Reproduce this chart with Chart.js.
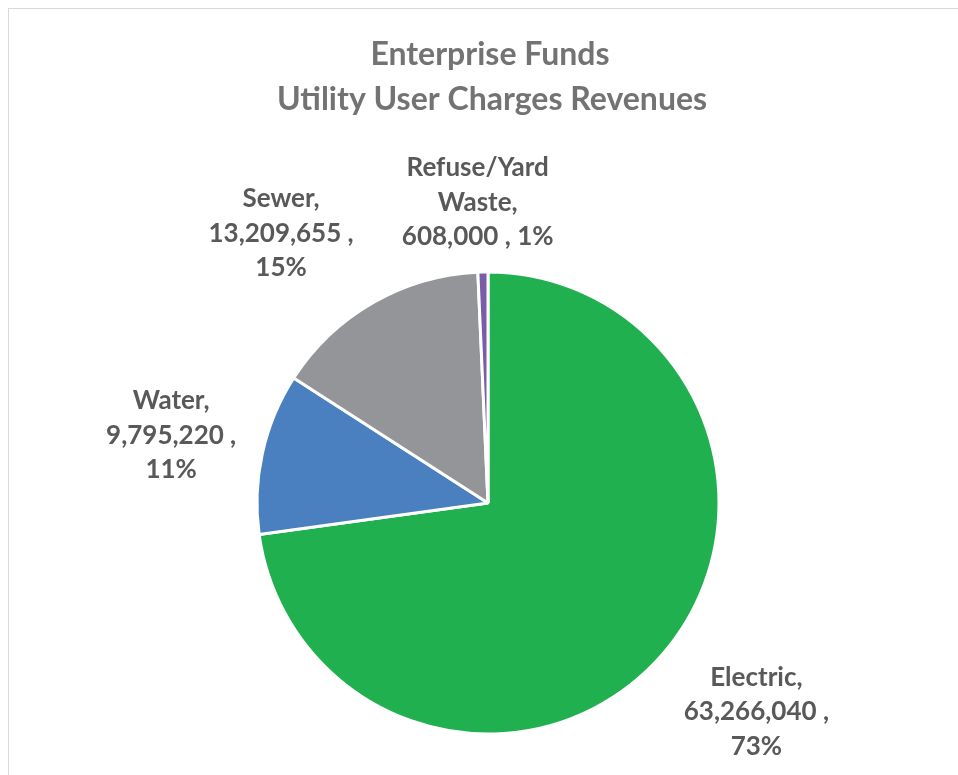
<!DOCTYPE html>
<html>
<head>
<meta charset="utf-8">
<title>Enterprise Funds - Utility User Charges Revenues</title>
<script src="https://cdn.jsdelivr.net/npm/chart.js@4.4.0/dist/chart.umd.min.js"></script>
<style>
  html, body { margin: 0; padding: 0; background: #fff; overflow: hidden; }
  #wrap { position: relative; width: 958px; height: 775px; }
  #frame {
    position: absolute; left: 8px; top: 8px; width: 1000px; height: 1000px;
    border: 1px solid #d9d9d9; box-sizing: border-box;
  }
  #grafico { position: absolute; left: 0; top: 0; }
</style>
</head>
<body>
<div id="wrap">
  <div id="frame"></div>
  <canvas id="grafico" width="958" height="775"></canvas>
</div>
<script>
// Datos
const tituloLineas = ["Enterprise Funds", "Utility User Charges Revenues"];
const fuentes = ["Electric", "Water", "Sewer", "Refuse/Yard Waste"];
const ingresos = [63266040, 9795220, 13209655, 608000];
const colores = ["#21b04f", "#4a7fc0", "#939598", "#7b5ca9"];

// Ubicación de cada etiqueta: distancia fuera del borde y giro (grados) respecto al centro del sector
const etiquetaAjuste = [
  { fuera: 109, giro: -3.2 },
  { fuera: 93, giro: -0.4 },
  { fuera: 109, giro: -7.6 },
  { fuera: 70, giro: -0.7 }
];

function partirTexto(ctx, texto, ancho) {
  const palabras = texto.split(" ");
  const lineas = [];
  let actual = "";
  palabras.forEach(p => {
    const prueba = actual ? actual + " " + p : p;
    if (actual && ctx.measureText(prueba).width > ancho) {
      lineas.push(actual);
      actual = p;
    } else {
      actual = prueba;
    }
  });
  if (actual) lineas.push(actual);
  return lineas;
}

const etiquetasPlugin = {
  id: "etiquetas",
  afterDraw(chart) {
    const ctx = chart.ctx;
    ctx.save();
    ctx.textAlign = "center";
    ctx.textBaseline = "middle";

    // título
    ctx.fillStyle = "#737373";
    ctx.font = "bold 32px Lato";
    ctx.fillText(tituloLineas[0], 490, 55);
    ctx.fillText(tituloLineas[1], 492, 100);

    // etiquetas de los sectores
    const meta = chart.getDatasetMeta(0);
    const total = ingresos.reduce((a, b) => a + b, 0);
    ctx.fillStyle = "#595959";
    ctx.font = "bold 26px Lato";
    const alto = 34.5;
    meta.data.forEach((arc, i) => {
      const pct = Math.round(ingresos[i] / total * 100);
      const texto = fuentes[i] + ", " + ingresos[i].toLocaleString("en-US") + " , " + pct + "%";
      const lineas = partirTexto(ctx, texto, 165);
      const medio = (arc.startAngle + arc.endAngle) / 2 + etiquetaAjuste[i].giro * Math.PI / 180;
      const d = arc.outerRadius + etiquetaAjuste[i].fuera;
      const cx = arc.x + Math.cos(medio) * d;
      const cy = arc.y + Math.sin(medio) * d;
      lineas.forEach((l, k) => {
        ctx.fillText(l, cx, cy + (k - (lineas.length - 1) / 2) * alto);
      });
    });
    ctx.restore();
  }
};

new Chart(document.getElementById("grafico"), {
  type: "pie",
  data: {
    labels: fuentes,
    datasets: [{
      data: ingresos,
      backgroundColor: colores,
      borderColor: "#ffffff",
      borderWidth: 3,
      radius: 231
    }]
  },
  options: {
    responsive: false,
    animation: false,
    layout: {
      padding: { top: 272, bottom: 41, left: 257, right: 239 }
    },
    plugins: {
      legend: { display: false },
      tooltip: { enabled: false },
      title: { display: false }
    }
  },
  plugins: [etiquetasPlugin]
});
</script>
</body>
</html>
